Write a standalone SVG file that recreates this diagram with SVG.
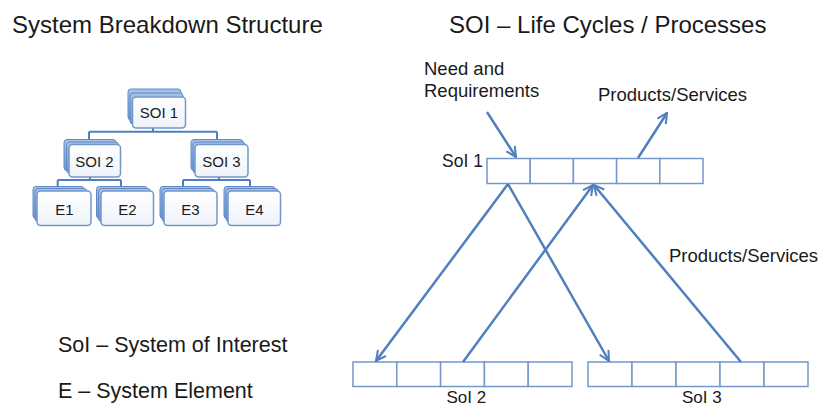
<svg xmlns="http://www.w3.org/2000/svg" width="840" height="407" viewBox="0 0 840 407">
<defs>
<linearGradient id="back" x1="0" y1="0" x2="0" y2="1">
<stop offset="0" stop-color="#a9c2e8"/>
<stop offset="1" stop-color="#6f97d3"/>
</linearGradient>
<linearGradient id="front" x1="0" y1="0" x2="0" y2="1">
<stop offset="0" stop-color="#ffffff"/>
<stop offset="1" stop-color="#eef3fa"/>
</linearGradient>
<marker id="ah" viewBox="0 0 12 12" refX="11" refY="6" markerWidth="12" markerHeight="12" markerUnits="userSpaceOnUse" orient="auto">
<path d="M1,1 L11,6 L1,11" fill="none" stroke="#4f7fbe" stroke-width="2"/>
</marker>
<style>
.t{font-family:"Liberation Sans",Arial,sans-serif;fill:#1a1a1a}
.bk{fill:url(#back);stroke:#6189c6;stroke-width:1}
.fr{fill:url(#front);stroke:#7397cb;stroke-width:1.5}
.tl{fill:none;stroke:#4f7fbe;stroke-width:2}
.cell{fill:#ffffff;stroke:#7498cc;stroke-width:1.5}
.ar{fill:none;stroke:#4f7fbe;stroke-width:2.5;marker-end:url(#ah)}
.bt{font-family:"Liberation Sans",Arial,sans-serif;font-size:15px;fill:#1a1a1a;text-anchor:middle}
</style>
</defs>
<rect width="840" height="407" fill="#ffffff"/>

<text class="t" x="12" y="33" font-size="24">System Breakdown Structure</text>
<text class="t" x="449" y="33" font-size="24">SOI – Life Cycles / Processes</text>
<text class="t" x="58" y="352" font-size="21.5">SoI – System of Interest</text>
<text class="t" x="58" y="398" font-size="21.5">E – System Element</text>

<g id="tree-connectors">
<path class="tl" d="M153,128 V131.7 M89,131.7 H217 M89,131.7 V140 M217,131.7 V140"/>
<path class="tl" d="M90,177 V180 M57.7,180 H121 M57.7,180 V187 M121,180 V187"/>
<path class="tl" d="M219,177 V180 M183,180 H250 M183,180 V187 M250,180 V187"/>
</g>

<g id="soi1">
<rect class="bk" x="128" y="89" width="53" height="31" rx="3"/>
<rect class="bk" x="130" y="93" width="53" height="31" rx="3"/>
<rect class="fr" x="132.5" y="97" width="53" height="31" rx="3.5"/>
<text class="bt" x="159" y="118">SOI 1</text>
</g>
<g id="soi2">
<rect class="bk" x="64" y="139.5" width="52" height="31" rx="3"/>
<rect class="bk" x="66.5" y="142" width="52" height="31" rx="3"/>
<rect class="fr" x="69" y="144.5" width="51.5" height="32.5" rx="3.5"/>
<text class="bt" x="94.5" y="167">SOI 2</text>
</g>
<g id="soi3">
<rect class="bk" x="191" y="139.5" width="52" height="31" rx="3"/>
<rect class="bk" x="193" y="142" width="52" height="31" rx="3"/>
<rect class="fr" x="195" y="144.5" width="53" height="32.5" rx="3.5"/>
<text class="bt" x="221.5" y="167">SOI 3</text>
</g>
<g id="e1">
<rect class="bk" x="33" y="186.5" width="51" height="32" rx="3"/>
<rect class="bk" x="35" y="188.5" width="52" height="33" rx="3"/>
<rect class="fr" x="37" y="191" width="54" height="34.5" rx="3.5"/>
<text class="bt" x="64.5" y="214.5">E1</text>
</g>
<g id="e2">
<rect class="bk" x="96.5" y="186.5" width="51" height="32" rx="3"/>
<rect class="bk" x="98.5" y="188.5" width="52" height="33" rx="3"/>
<rect class="fr" x="101" y="191" width="52.5" height="34.5" rx="3.5"/>
<text class="bt" x="127.5" y="214.5">E2</text>
</g>
<g id="e3">
<rect class="bk" x="160" y="186.5" width="51" height="32" rx="3"/>
<rect class="bk" x="162" y="188.5" width="52" height="33" rx="3"/>
<rect class="fr" x="164" y="191" width="53" height="34.5" rx="3.5"/>
<text class="bt" x="190.5" y="214.5">E3</text>
</g>
<g id="e4">
<rect class="bk" x="224" y="186.5" width="51" height="32" rx="3"/>
<rect class="bk" x="226" y="188.5" width="52" height="33" rx="3"/>
<rect class="fr" x="228" y="191" width="52.5" height="34.5" rx="3.5"/>
<text class="bt" x="254.5" y="214.5">E4</text>
</g>

<g id="soi1-lifecycle">
<rect class="cell" x="487" y="158.5" width="43.2" height="25"/>
<rect class="cell" x="530.2" y="158.5" width="43.2" height="25"/>
<rect class="cell" x="573.4" y="158.5" width="43.2" height="25"/>
<rect class="cell" x="616.6" y="158.5" width="43.2" height="25"/>
<rect class="cell" x="659.8" y="158.5" width="43.2" height="25"/>
<text class="t" x="442" y="166.5" font-size="17.5">SoI 1</text>
</g>
<g id="soi2-lifecycle">
<rect class="cell" x="353" y="362" width="43.8" height="24.5"/>
<rect class="cell" x="396.8" y="362" width="43.8" height="24.5"/>
<rect class="cell" x="440.6" y="362" width="43.8" height="24.5"/>
<rect class="cell" x="484.4" y="362" width="43.8" height="24.5"/>
<rect class="cell" x="528.2" y="362" width="43.8" height="24.5"/>
<text class="t" x="446.5" y="402.5" font-size="17">SoI 2</text>
</g>
<g id="soi3-lifecycle">
<rect class="cell" x="588" y="362" width="44" height="24.5"/>
<rect class="cell" x="632" y="362" width="44" height="24.5"/>
<rect class="cell" x="676" y="362" width="44" height="24.5"/>
<rect class="cell" x="720" y="362" width="44" height="24.5"/>
<rect class="cell" x="764" y="362" width="44" height="24.5"/>
<text class="t" x="682" y="402.5" font-size="17">SoI 3</text>
</g>

<g id="labels">
<text class="t" x="424" y="75" font-size="18.5">Need and</text>
<text class="t" x="424" y="97" font-size="18.5">Requirements</text>
<text class="t" x="598" y="100.5" font-size="18.5">Products/Services</text>
<text class="t" x="669" y="262" font-size="18.5">Products/Services</text>
</g>

<g id="connectors">
<line class="ar" x1="487" y1="112" x2="516" y2="157"/>
<line class="ar" x1="638" y1="158" x2="667" y2="113"/>
<line class="ar" x1="508" y1="184" x2="376" y2="361"/>
<line class="ar" x1="508" y1="184" x2="609" y2="361"/>
<line class="ar" x1="463" y1="362" x2="593" y2="185"/>
<line class="ar" x1="741" y1="362" x2="594" y2="185"/>
</g>
</svg>
